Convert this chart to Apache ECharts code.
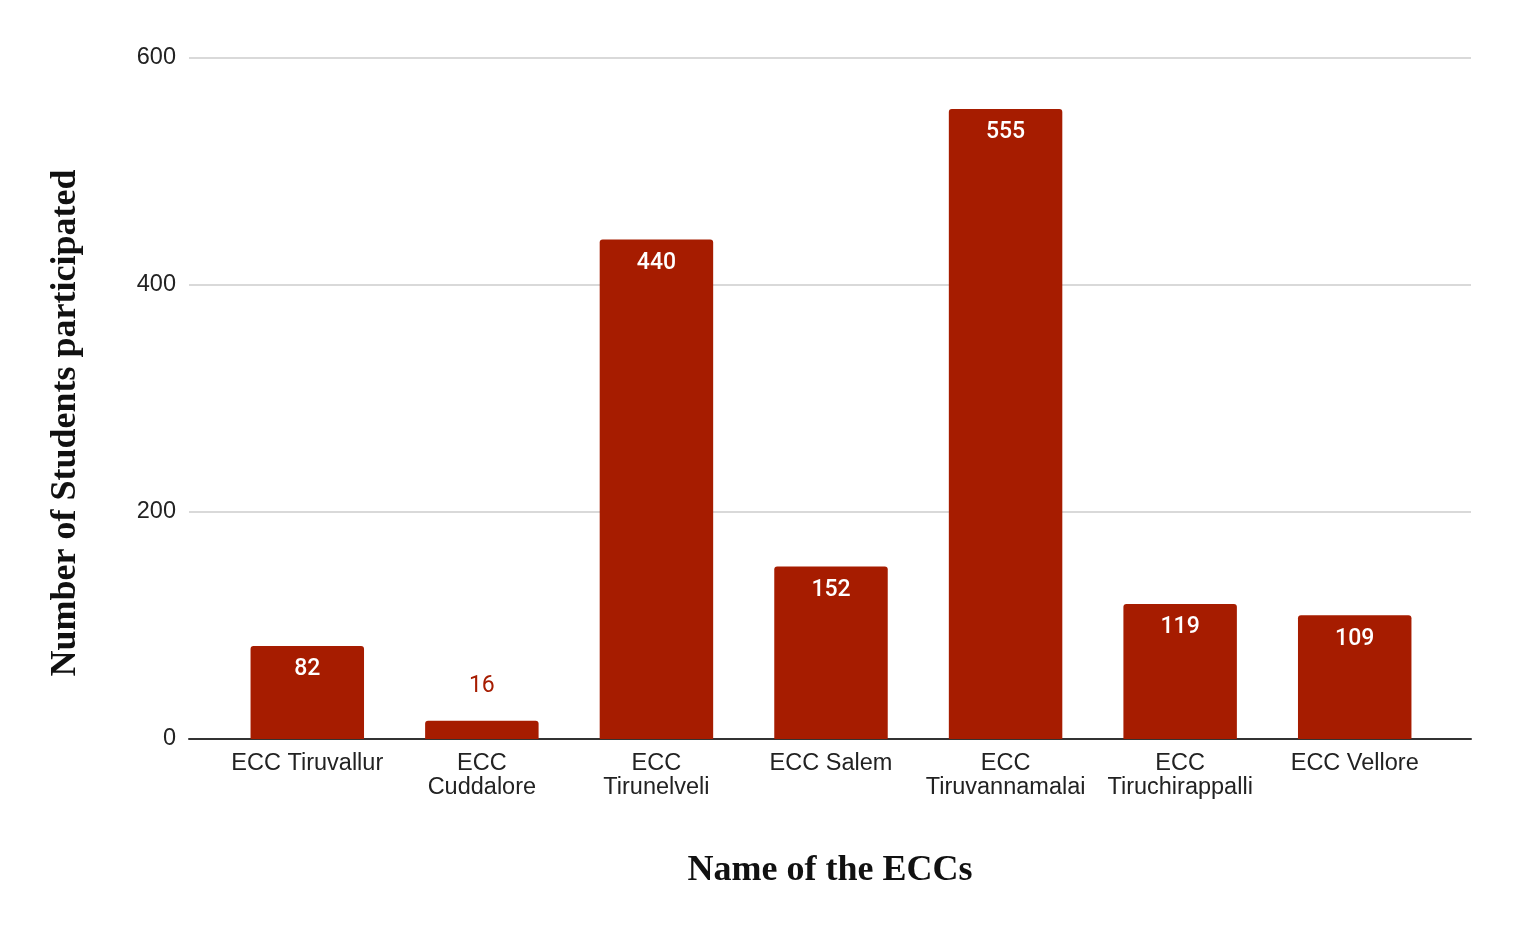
<!DOCTYPE html>
<html>
<head>
<meta charset="utf-8">
<script src="https://cdn.jsdelivr.net/npm/echarts@6/dist/echarts.min.js"></script>
<style>html,body{margin:0;padding:0;background:#fff}#c{width:1518px;height:936px}</style>
</head>
<body>
<div id="c"></div>
<script>
const categories = ['ECC Tiruvallur', 'ECC\nCuddalore', 'ECC\nTirunelveli', 'ECC Salem', 'ECC\nTiruvannamalai', 'ECC\nTiruchirappalli', 'ECC Vellore'];
const values = [82, 16, 440, 152, 555, 119, 109];
const yTicks = [0, 200, 400, 600];
const xTitle = 'Name of the ECCs';
const yTitle = 'Number of Students participated';

const barColor = '#a61c00';
const sansFont = "Arial, 'Liberation Sans', sans-serif";
const chart = echarts.init(document.getElementById('c'), null, {renderer: 'canvas'});

const barData = values.map(v => {
  const d = {value: v};
  if (v < 40) {
    d.label = {position: 'top', color: barColor, fontWeight: 'normal', distance: 23};
  }
  return d;
});

chart.setOption({
  animation: false,
  grid: [
    {left: 189, right: 47, top: 58, bottom: 197},
    {left: 220, right: 76, top: 58, bottom: 197}
  ],
  xAxis: [
    {gridIndex: 0, type: 'value', min: 0, max: 1, show: true,
     axisLine: {show: true, onZero: false, lineStyle: {color: '#333', width: 2}},
     axisTick: {show: false}, axisLabel: {show: false}, splitLine: {show: false}},
    {gridIndex: 1, type: 'category', data: categories,
     axisLine: {show: false}, axisTick: {show: false},
     axisLabel: {interval: 0, color: '#222', fontFamily: sansFont, fontSize: 23.5, lineHeight: 24, margin: 13}}
  ],
  yAxis: [
    {gridIndex: 0, type: 'value', min: 0, max: 600, interval: 200,
     axisLine: {show: false}, axisTick: {show: false},
     axisLabel: {color: '#222', fontFamily: sansFont, fontSize: 23.5, margin: 13,
       formatter: v => yTicks.includes(v) ? String(v) : ''},
     splitLine: {lineStyle: {color: '#cccccc', width: 1.5}}},
    {gridIndex: 1, type: 'value', min: 0, max: 600, show: false, splitLine: {show: false}}
  ],
  graphic: [
    {type: 'text', x: 830, y: 871,
     style: {text: xTitle, font: 'bold 36px "Liberation Serif", serif', fill: '#111', align: 'center', verticalAlign: 'middle'}},
    {type: 'text', x: 66, y: 423, rotation: Math.PI / 2,
     style: {text: yTitle, font: 'bold 36px "Liberation Serif", serif', fill: '#111', align: 'center', verticalAlign: 'middle'}}
  ],
  series: [{
    type: 'bar', xAxisIndex: 1, yAxisIndex: 1, data: barData,
    barWidth: '65%',
    itemStyle: {color: barColor, borderRadius: [3, 3, 0, 0]},
    label: {show: true, position: 'insideTop', distance: 12, color: '#fff', fontFamily: 'Roboto', fontSize: 23, fontWeight: 500}
  }]
});
</script>
</body>
</html>
